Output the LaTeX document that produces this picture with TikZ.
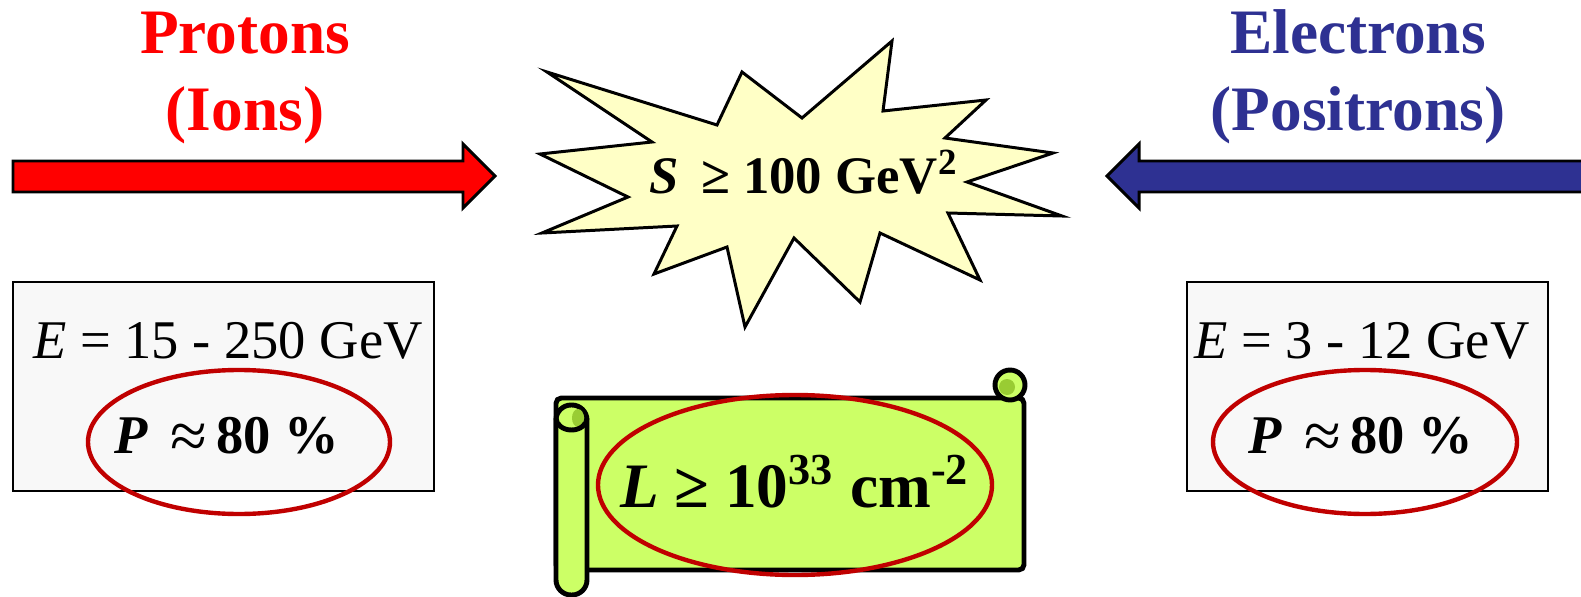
\documentclass[tikz,border=0pt]{standalone}
\usepackage{fontspec}
\setmainfont{Liberation Serif}
\usepackage{tikz}
\usetikzlibrary{positioning, calc}
\definecolor{beamblue}{HTML}{2E3192}
\definecolor{ringred}{HTML}{C00000}
\definecolor{starfill}{HTML}{FFFFC6}
\definecolor{scrollfill}{HTML}{CCFF66}
\definecolor{scrolldark}{HTML}{99CC33}
\definecolor{boxfill}{HTML}{F8F8F8}
\newcommand{\bigapprox}{\raisebox{-1.6pt}{\fontsize{19}{20}\selectfont\mdseries ≈}}

\begin{document}
\begin{tikzpicture}[x=0.01cm, y=-0.01cm,
    title/.style={font=\fontsize{18}{20}\selectfont\bfseries, anchor=base},
    beam/.style={draw=black, line width=0.85pt, line join=miter},
    infobox/.style={draw=black, line width=0.6pt, fill=boxfill},
    ring/.style={draw=ringred, line width=1.25pt},
    scrollline/.style={draw=black, line width=1.4pt, fill=scrollfill}]
  \useasboundingbox (0,0) rectangle (1581,597);
  \clip (0,0) rectangle (1581,597);

  % Strahlen (Titel)
  \node[title, red] (ptitle) at (245,53) {Protons};
  \node[title, red] (psub) at (245,130) {(Ions)};
  \node[title, beamblue] (etitle) at (1358,53) {Electrons};
  \node[title, beamblue] (esub) at (1358,130) {(Positrons)};

  % Blockpfeile
  \draw[beam, fill=red] (13,161) -- (463,161) -- (463,144) -- (495,176)
    -- (463,208) -- (463,192) -- (13,192) -- cycle;
  \draw[beam, fill=beamblue] (1600,161) -- (1139,161) -- (1139,144) -- (1107,176)
    -- (1139,208) -- (1139,192) -- (1600,192) -- cycle;

  % Stern
  \draw[line width=0.85pt, fill=starfill, line join=miter]
    (547,72) -- (717,125) -- (742,72) -- (802,118) -- (892,41) -- (883,111)
    -- (986,100) -- (945,138) -- (1053,153) -- (967,182) -- (1062,216)
    -- (948,213) -- (980,280) -- (880,233) -- (860,302) -- (794,238)
    -- (745,327) -- (727,247) -- (654,274) -- (677,226) -- (542,233)
    -- (628,197) -- (540,154) -- (652,142) -- cycle;
  \node[font=\fontsize{15}{17}\selectfont\bfseries, anchor=base] (svalue) at (804,193)
    {\textit{S}\, ≥ 100 GeV\textsuperscript{2}};

  % Kästen
  \draw[infobox] (13,282) rectangle (434,491);
  \draw[infobox] (1187,282) rectangle (1548,491);
  \node[font=\fontsize{15.5}{17}\selectfont, anchor=base] (penergy) at (228,358)
    {\textit{E} = 15 - 250 GeV};
  \node[font=\fontsize{15.5}{17}\selectfont, anchor=base] (eenergy) at (1362,358)
    {\textit{E} = 3 - 12 GeV};
  \draw[ring] (239,442) ellipse (151 and 72);
  \draw[ring] (1365,442) ellipse (152 and 72);
  \node[font=\fontsize{15.5}{17}\selectfont\bfseries, anchor=base] (ppol) at (227,453)
    {\textit{P}\, \bigapprox\,80 \%};
  \node[font=\fontsize{15.5}{17}\selectfont\bfseries, anchor=base] (epol) at (1361,453)
    {\textit{P}\, \bigapprox\,80 \%};

  % Rolle
  \draw[scrollline, rounded corners=1.5pt] (556,398) rectangle (1024,570);
  \draw[scrollline] (1010,385) circle (15);
  \fill[scrolldark] (1007,387) circle (8);
  \draw[scrollline, rounded corners=4.3pt] (556,405) rectangle (587,595);
  \fill[scrolldark] (578,418) ellipse (6 and 9);
  \draw[line width=1.4pt] (556,418) arc (180:0:15.5 and 12);
  \draw[ring] (795,485) ellipse (197 and 90);
  \node[font=\fontsize{18}{20}\selectfont\bfseries, anchor=base] (lumi) at (795,507)
    {\textit{L} ≥ 10\textsuperscript{33} cm\textsuperscript{-2}};
\end{tikzpicture}
\end{document}
